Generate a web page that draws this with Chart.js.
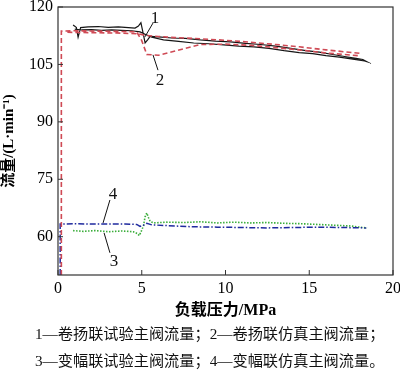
<!DOCTYPE html>
<html><head><meta charset="utf-8">
<script src="https://cdn.jsdelivr.net/npm/chart.js@4/dist/chart.umd.min.js"></script>
<style>
html,body{margin:0;padding:0;background:#fff;}
#wrap{position:relative;width:400px;height:372px;overflow:hidden;background:#fff;}
canvas{position:absolute;left:0;top:0;}
.cap{position:absolute;left:35px;font-family:"Liberation Serif","Noto Sans CJK SC",serif;font-size:15.2px;line-height:20px;color:#111;white-space:nowrap;}
</style></head>
<body>
<div id="wrap">
<canvas id="c" width="400" height="372"></canvas>
<div class="cap" style="top:324px">1—卷扬联试验主阀流量；2—卷扬联仿真主阀流量；</div>
<div class="cap" style="top:351px">3—变幅联试验主阀流量；4—变幅联仿真主阀流量。</div>
</div>
<script>
// ---- data ----
const xTicks = [0, 5, 10, 15, 20];
const yTicks = [60, 75, 90, 105, 120];

// 1: winch test main valve flow (black, loop out and back)
const s1x = [0.9,1.0,1.1,1.2,1.35,1.8,2.4,3.0,3.6,4.2,4.6,4.8,4.95,5.05,5.2,5.35,5.5,6.0,6.8,7.6,8.5,9.4,10.3,11.2,12.1,13.0,13.9,14.8,15.6,16.4,17.2,17.8,18.2,18.45,
             18.3,17.6,16.8,16.0,15.2,14.4,13.5,12.6,11.7,10.8,9.9,9.0,8.1,7.2,6.3,5.6,5.2,4.9,4.4,3.8,3.2,2.6,2.0,1.4,1.0];
const s1y = [115.3,115.0,114.6,112.1,114.6,114.8,114.9,114.7,114.8,114.6,114.5,115.0,115.9,113.8,110.6,111.4,112.3,112.2,111.9,111.8,111.4,111.1,110.9,110.5,110.2,109.8,109.2,108.6,108.2,107.6,107.0,106.6,106.3,105.7,
             105.9,106.4,106.9,107.3,107.8,108.1,108.6,109.2,109.6,109.8,110.1,110.4,110.6,111.0,111.4,112.1,112.9,113.5,113.8,113.9,114.0,113.9,114.1,114.0,114.2];

// 2: winch simulation main valve flow (red dashed)
const s2x = [0.2,0.2,1.0,2.5,4.0,4.7,5.0,5.3,6.0,7.0,8.5,10.0,11.5,13.0,14.4,16.0,17.9,
             18.0,16.0,14.4,13.0,11.5,10.0,8.5,7.0,6.0,5.2,4.8,3.5,2.0,0.5];
const s2y = [50,113.7,113.8,113.7,113.6,113.5,111.2,107.6,107.4,108.5,110.2,110.3,110.0,109.4,108.8,108.0,107.3,
             107.9,108.8,109.6,110.2,110.8,111.3,111.7,112.0,112.3,112.6,113.0,113.2,113.3,113.4];

// 3: luffing test main valve flow (green dotted)
const s3x = [0.9,1.5,2.2,3.0,3.8,4.5,4.75,4.85,4.95,5.1,5.2,5.3,5.4,5.5,5.7,6.5,7.5,8.5,9.5,10.5,11.5,12.5,13.5,14.5,15.5,16.5,17.5,18.0,18.45];
const s3y = [61.6,61.4,61.6,61.3,61.5,61.3,60.8,60.3,61.2,62.8,65.2,66.2,65.0,64.0,63.6,63.8,63.7,63.9,63.6,63.8,63.6,63.7,63.5,63.4,63.2,63.0,62.8,62.5,62.3];

// 4: luffing simulation main valve flow (blue dash-dot)
const s4x = [0.13,0.13,1.0,2.0,3.0,4.0,4.7,4.9,5.1,5.3,5.6,6.5,8.0,9.5,11.0,12.5,14.0,15.5,17.0,18.4];
const s4y = [50,63.3,63.4,63.3,63.3,63.3,63.2,62.7,63.0,63.5,63.1,62.9,62.6,62.5,62.4,62.3,62.4,62.5,62.4,62.3];

// curve labels: text, label position, leader line from/to (data units)
const labelText = ['1', '2', '4', '3'];
const labelPos  = [[5.79,117.1],[6.09,100.9],[3.28,70.9],[3.34,53.4]];
const leaderFrom = [[5.67,115.8],[5.97,103.5],[3.10,69.6],[3.10,55.8]];
const leaderTo   = [[5.19,112.2],[5.67,107.5],[2.69,63.6],[2.75,61.0]];

const pts = (xs, ys) => xs.map((x, i) => ({x, y: ys[i]}));
const SERIF = '"Liberation Serif", "Times New Roman", serif';
const CJK = '"Liberation Serif", "Noto Sans CJK SC", sans-serif';

const framePlugin = {
  id: 'frame',
  afterDatasetsDraw(chart) {
    const {ctx, chartArea: a, scales: {x, y}} = chart;
    ctx.save();
    ctx.strokeStyle = '#333';
    ctx.lineWidth = 1.2;
    ctx.strokeRect(a.left, a.top, a.right - a.left, a.bottom - a.top);
    ctx.lineWidth = 1;
    ctx.beginPath();
    xTicks.forEach(v => { const px = x.getPixelForValue(v); ctx.moveTo(px, a.bottom); ctx.lineTo(px, a.bottom - 5); });
    yTicks.forEach(v => { const py = y.getPixelForValue(v); ctx.moveTo(a.left, py); ctx.lineTo(a.left + 5, py); });
    ctx.stroke();
    // curve labels
    ctx.strokeStyle = '#111';
    ctx.fillStyle = '#111';
    ctx.font = '17px ' + SERIF;
    ctx.textAlign = 'center';
    ctx.textBaseline = 'middle';
    labelText.forEach((t, i) => {
      ctx.beginPath();
      ctx.moveTo(x.getPixelForValue(leaderFrom[i][0]), y.getPixelForValue(leaderFrom[i][1]));
      ctx.lineTo(x.getPixelForValue(leaderTo[i][0]), y.getPixelForValue(leaderTo[i][1]));
      ctx.stroke();
      ctx.fillText(t, x.getPixelForValue(labelPos[i][0]), y.getPixelForValue(labelPos[i][1]));
    });
    ctx.restore();
  }
};

new Chart(document.getElementById('c'), {
  type: 'scatter',
  data: {
    datasets: [
      {label: '卷扬联仿真主阀流量', data: pts(s2x, s2y), showLine: true, borderColor: '#cf4a55', borderWidth: 1.6, borderDash: [5, 3], pointRadius: 0, tension: 0},
      {label: '卷扬联试验主阀流量', data: pts(s1x, s1y), showLine: true, borderColor: '#151515', borderWidth: 1.2, pointRadius: 0, tension: 0},
      {label: '变幅联仿真主阀流量', data: pts(s4x, s4y), showLine: true, borderColor: '#1f2a9e', borderWidth: 1.5, borderDash: [6, 2, 1.5, 2], pointRadius: 0, tension: 0},
      {label: '变幅联试验主阀流量', data: pts(s3x, s3y), showLine: true, borderColor: '#3aad3a', borderWidth: 1.6, borderDash: [1.5, 1.5], pointRadius: 0, tension: 0}
    ]
  },
  options: {
    responsive: false, animation: false, devicePixelRatio: 1,
    layout: {padding: {left: 0, right: 7, top: 7, bottom: 0}},
    plugins: {legend: {display: false}, tooltip: {enabled: false}},
    scales: {
      x: {
        type: 'linear', min: 0, max: 20,
        afterBuildTicks: s => { s.ticks = xTicks.map(v => ({value: v})); },
        grid: {display: false, drawTicks: false}, border: {display: false},
        ticks: {padding: 4, color: '#000', font: {family: SERIF, size: 16}, maxRotation: 0, autoSkip: false},
        title: {display: true, text: '负载压力/MPa', color: '#000', font: {family: CJK, size: 16, weight: 'bold'}, padding: {top: 0, bottom: 52}},
        afterFit: s => { s.height = 97; s.paddingLeft = 0; s.paddingRight = 0; }
      },
      y: {
        type: 'linear', min: 50, max: 120,
        afterBuildTicks: s => { s.ticks = yTicks.map(v => ({value: v})); },
        grid: {display: false, drawTicks: false}, border: {display: false},
        ticks: {padding: 5, color: '#000', font: {family: SERIF, size: 16}, autoSkip: false},
        title: {display: true, text: '流量/(L·min⁻¹)', color: '#000', font: {family: CJK, size: 15, weight: 'bold'}, padding: {top: 0, bottom: 0}},
        afterFit: s => { s.width = 58; s.paddingTop = 0; s.paddingBottom = 0; }
      }
    }
  },
  plugins: [framePlugin]
});
</script>
</body></html>
